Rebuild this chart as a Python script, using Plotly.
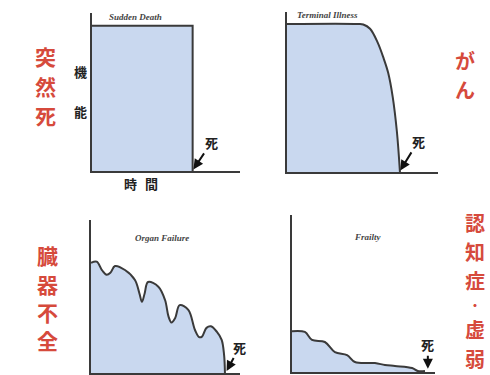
import plotly.graph_objects as go

W, H = 490, 375

# four trajectories of function over time (0-100 scale on both axes)
sudden_t = [0, 68, 68]
sudden_f = [92, 92, 0]

terminal_t = [0, 47, 50.5, 55, 60, 64, 67, 70, 72.8, 74.8]
terminal_f = [92.5, 92.5, 92.2, 89.5, 81, 71, 62, 47, 25, 0]

organ_t = [0, 3.8, 7.5, 10.5, 13, 16.1, 22.8, 29.5, 32.5, 34.2, 36, 38.3, 45.2, 49.7, 52,
           54, 56.5, 59.5, 65.3, 69.8, 72.5, 74.5, 77.5, 80.5, 84.4, 87.7, 89.3, 89.9]
organ_f = [72, 72.8, 67, 64.2, 65.5, 69.9, 67.3, 60.8, 52, 46.5, 52, 59.5, 56.4, 47.7, 37,
           33, 36, 44.4, 41.2, 28.1, 23.5, 23.8, 29.5, 30.5, 27, 21.6, 12, 0]

frail_t = [0, 9, 14, 23, 30, 38.5, 44, 58, 65, 72, 84, 88, 93]
frail_f = [26, 25.5, 20.4, 19.1, 12.7, 10.8, 6.4, 5.7, 4.5, 3.8, 2.5, 0.6, 0.6]

titles = ["Sudden Death", "Terminal Illness", "Organ Failure", "Frailty"]
labels = ["突然死", "がん", "臓器不全", "認知症・虚弱"]

FILL = "#c9d8ef"
LINE = "#3a3a3a"
RED = "#d64a3c"

def px(x):
    return x / W

def py(y):
    return 1 - y / H

# panel frames in pixels: (left, right, top, bottom)
frames = [(92, 240, 13, 171), (287, 438, 12, 172), (91, 240, 220, 373), (292, 435, 215, 372)]
series = [(sudden_t, sudden_f, "linear"), (terminal_t, terminal_f, "spline"),
          (organ_t, organ_f, "spline"), (frail_t, frail_f, "spline")]

fig = go.Figure()
layout = {}
for i, ((l, r, t, b), (xs, ys, shape)) in enumerate(zip(frames, series), start=1):
    sx = "" if i == 1 else str(i)
    fig.add_trace(go.Scatter(x=xs, y=ys, mode="lines", fill="tozeroy", fillcolor=FILL,
                             line=dict(color=LINE, width=2, shape=shape, smoothing=1),
                             xaxis="x" + sx, yaxis="y" + sx, showlegend=False,
                             hoverinfo="skip"))
    ax = dict(range=[0, 100], showline=True, linecolor=LINE, linewidth=2, showticklabels=False,
              ticks="", showgrid=False, zeroline=False, fixedrange=True)
    layout["xaxis" + sx] = dict(ax, domain=[px(l), px(r)], anchor="y" + sx)
    layout["yaxis" + sx] = dict(ax, domain=[py(b), py(t)], anchor="x" + sx)

fig.update_layout(**layout)

ann = []

def label(x, y, text, font, **kw):
    ann.append(dict(x=px(x), y=py(y), xref="paper", yref="paper", text=text, showarrow=False,
                    xanchor="center", yanchor="middle", font=font, **kw))

# small italic titles
for (x, y), t in zip([(135, 17), (327, 15), (162, 238), (368, 237)], titles):
    label(x, y, t, dict(family="Liberation Serif", size=9, color="#444", style="italic",
                        weight="bold"))

# red vertical labels, one character at a time
red_pos = [(45, [56, 86, 115], 21), (465, [60, 89], 20), (47, [255, 284, 312, 340], 21),
           (475, [222, 251, 280, 305, 329, 358], 20)]
for (x, ys, size), t in zip(red_pos, labels):
    for y, ch in zip(ys, t):
        s = 12 if ch == "・" else size
        label(x, y, ch, dict(family="Noto Sans CJK JP", size=s, color=RED, weight="bold"),
              borderpad=0)

# axis captions of the first panel
for (x, y), t in zip([(80, 72), (80, 112), (130, 184), (151, 184)], ["機", "能", "時", "間"]):
    label(x, y, t, dict(family="Noto Sans CJK JP", size=13, color="#222", weight="bold"))

# death arrows
death = [(68.5, 1, 18, -27, ""), (75, 1, 18, -29, "2"), (91, 1.3, 13, -24, "3"), (95, 2, 0, -24, "4")]
for x, y, dx, dy, sx in death:
    ann.append(dict(x=x, y=y, xref="x" + sx, yref="y" + sx, text="死", showarrow=True,
                    ax=dx, ay=dy, arrowhead=2, arrowsize=1, arrowwidth=2, arrowcolor="#111",
                    standoff=0,
                    font=dict(family="Noto Sans CJK JP", size=13, color="#222", weight="bold")))

fig.update_layout(width=W, height=H, margin=dict(l=0, r=0, t=0, b=0),
                  paper_bgcolor="white", plot_bgcolor="white", annotations=ann)

fig.write_html("out.html", config={"displayModeBar": False},
               post_script="document.body.style.margin='0';")
